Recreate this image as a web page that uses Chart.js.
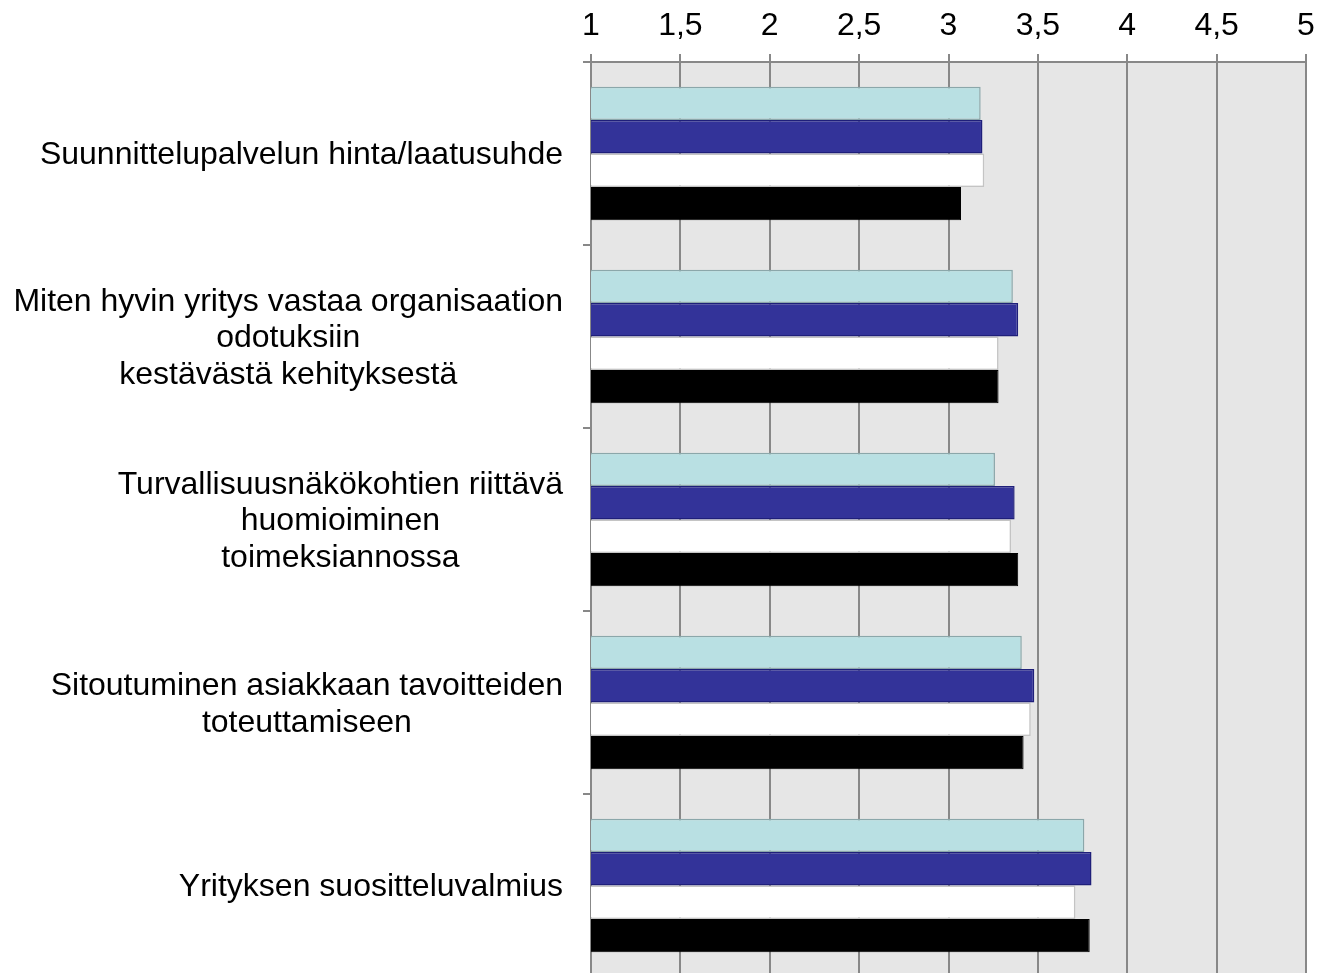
<!DOCTYPE html>
<html>
<head>
<meta charset="utf-8">
<script src="https://cdn.jsdelivr.net/npm/chart.js@4"></script>
<style>
  html, body { margin: 0; padding: 0; background: #fff; overflow: hidden; }
  #wrap { width: 1318px; height: 977px; }
</style>
</head>
<body>
<div id="wrap"><canvas id="chart" width="1318" height="977"></canvas></div>
<script>
// Category labels (one array per label, one string per line)
const categories = [
    ['Suunnittelupalvelun hinta/laatusuhde'],
    ['Miten hyvin yritys vastaa organisaation', 'odotuksiin', 'kestävästä kehityksestä'],
    ['Turvallisuusnäkökohtien riittävä', 'huomioiminen', 'toimeksiannossa'],
    ['Sitoutuminen asiakkaan tavoitteiden', 'toteuttamiseen'],
    ['Yrityksen suositteluvalmius']
];

// Series values
const seriesCyan  = [3.18, 3.36, 3.26, 3.41, 3.76];
const seriesBlue  = [3.19, 3.39, 3.37, 3.48, 3.80];
const seriesWhite = [3.20, 3.28, 3.35, 3.46, 3.71];
const seriesBlack = [3.07, 3.28, 3.39, 3.42, 3.79];

const xTicks = [1, 1.5, 2, 2.5, 3, 3.5, 4, 4.5, 5];

const FONT = 'Liberation Sans, Arial, sans-serif';

// Grey plot background
const plotBackground = {
    id: 'plotBackground',
    beforeDraw(chart) {
        const { ctx, chartArea } = chart;
        ctx.save();
        ctx.fillStyle = '#e6e6e6';
        ctx.fillRect(chartArea.left, chartArea.top, chartArea.right - chartArea.left, chartArea.bottom - chartArea.top);
        ctx.restore();
    }
};

// Category labels: lines centred on each other, block right aligned
const categoryLabels = {
    id: 'categoryLabels',
    afterDraw(chart) {
        const { ctx } = chart;
        const yScale = chart.scales.y;
        const lineHeight = 36.5;
        const rightEdge = yScale.right - 28;
        ctx.save();
        ctx.font = '32px ' + FONT;
        ctx.fillStyle = '#000';
        ctx.textAlign = 'center';
        ctx.textBaseline = 'middle';
        categories.forEach((lines, i) => {
            const y = yScale.getPixelForTick(i) + 2;
            const widest = Math.max(...lines.map(l => ctx.measureText(l).width));
            const cx = rightEdge - widest / 2;
            const top = y - (lines.length - 1) * lineHeight / 2;
            lines.forEach((line, j) => ctx.fillText(line, cx, top + j * lineHeight));
        });
        ctx.restore();
    }
};

new Chart(document.getElementById('chart'), {
    type: 'bar',
    data: {
        labels: categories.map(c => c.join(' ')),
        datasets: [
            { data: seriesCyan,  backgroundColor: '#b9e0e3', borderColor: '#8ba7aa', borderWidth: 1.5 },
            { data: seriesBlue,  backgroundColor: '#333399', borderColor: '#1f1f7a', borderWidth: 1.5 },
            { data: seriesWhite, backgroundColor: '#ffffff', borderColor: '#c4c4c4', borderWidth: 1.5 },
            { data: seriesBlack, backgroundColor: '#000000', borderColor: '#000000', borderWidth: 1 }
        ]
    },
    options: {
        indexAxis: 'y',
        responsive: false,
        animation: false,
        layout: { padding: { top: 0, right: 12, bottom: 0, left: 0 } },
        datasets: {
            bar: { categoryPercentage: 0.73, barPercentage: 1, borderSkipped: false }
        },
        plugins: {
            legend: { display: false },
            tooltip: { enabled: false }
        },
        scales: {
            x: {
                position: 'top',
                min: 1,
                max: 5,
                afterBuildTicks(scale) {
                    scale.ticks = xTicks.map(v => ({ value: v }));
                },
                afterFit(scale) {
                    scale.height = 62;
                    scale.paddingLeft = 0;
                    scale.paddingRight = 0;
                },
                ticks: {
                    color: '#000',
                    padding: 9,
                    font: { family: FONT, size: 32 },
                    callback: v => String(v).replace('.', ',')
                },
                grid: { color: '#888888', lineWidth: 2, tickLength: 8 },
                border: { color: '#888888', width: 2 }
            },
            y: {
                afterFit(scale) {
                    scale.width = 591;
                    scale.paddingTop = 0;
                    scale.paddingBottom = 0;
                },
                ticks: { display: false },
                grid: { drawOnChartArea: false, offset: true, color: '#888888', lineWidth: 2, tickLength: 8 },
                border: { color: '#888888', width: 2 }
            }
        }
    },
    plugins: [plotBackground, categoryLabels]
});
</script>
</body>
</html>
